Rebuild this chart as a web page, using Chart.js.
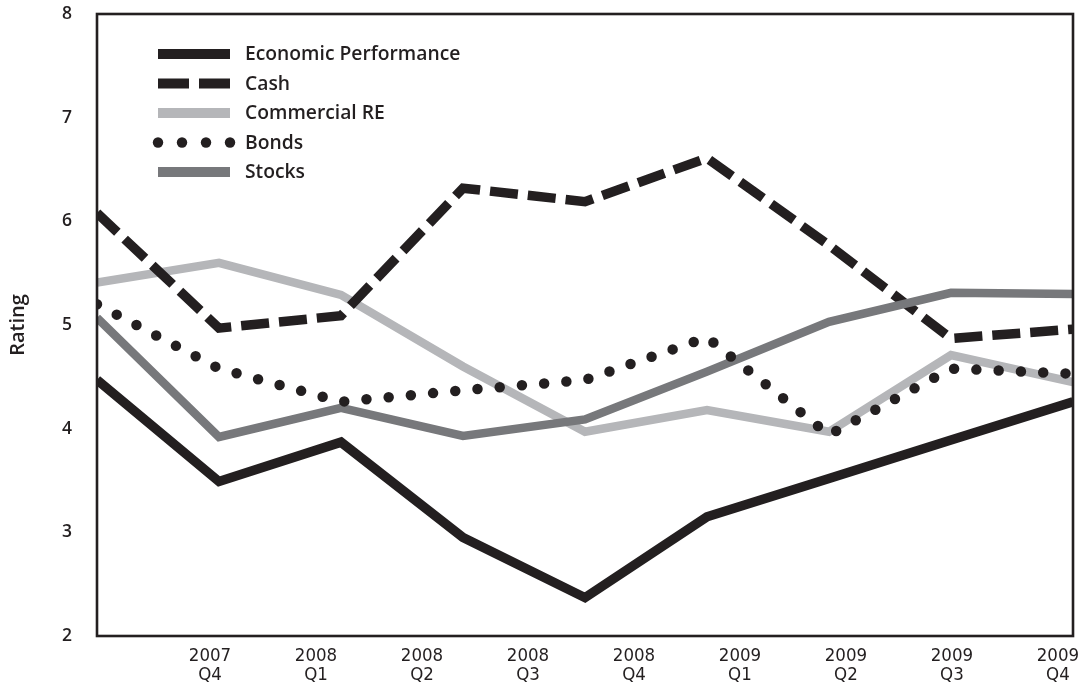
<!DOCTYPE html>
<html>
<head>
<meta charset="utf-8">
<script src="https://cdn.jsdelivr.net/npm/chart.js@4/dist/chart.umd.min.js"></script>
<style>
  html, body { margin: 0; padding: 0; background: #ffffff; }
  #wrap { width: 1078px; height: 685px; position: relative; }
</style>
</head>
<body>
<div id="wrap"><canvas id="c" width="1078" height="685"></canvas></div>
<script>
// ---- data ----
const pointIndex = ['P0', 'P1', 'P2', 'P3', 'P4', 'P5', 'P6', 'P7', 'P8'];
const quarterLabels = [
  ['2007', 'Q4'], ['2008', 'Q1'], ['2008', 'Q2'], ['2008', 'Q3'], ['2008', 'Q4'],
  ['2009', 'Q1'], ['2009', 'Q2'], ['2009', 'Q3'], ['2009', 'Q4']
];
const yTicks = [2, 3, 4, 5, 6, 7, 8];
const seriesNames = ['Economic Performance', 'Cash', 'Commercial RE', 'Bonds', 'Stocks'];
const economic     = [4.47, 3.49, 3.87, 2.95, 2.37, 3.15, 3.52, 3.89, 4.26];
const cash         = [6.08, 4.97, 5.09, 6.32, 6.19, 6.61, 5.77, 4.87, 4.96];
const commercialRE = [5.41, 5.60, 5.29, 4.60, 3.97, 4.18, 3.97, 4.71, 4.45];
const bonds        = [5.20, 4.58, 4.26, 4.37, 4.47, 4.88, 3.94, 4.58, 4.53];
const stocks       = [5.07, 3.92, 4.20, 3.93, 4.09, 4.55, 5.03, 5.31, 5.30];

const INK = '#231f20';
const TXT_FONT = '"Open Sans", "Noto Sans", sans-serif';
const NARROW_FONT = '"Liberation Sans Narrow", "DejaVu Sans Condensed", "Roboto Condensed", sans-serif';

function ds(label, data, color, width, dash, cap, order, legendKind) {
  return {
    label, data,
    borderColor: color, backgroundColor: color,
    borderWidth: width, borderDash: dash, borderCapStyle: cap,
    borderJoinStyle: 'miter', pointRadius: 0, pointHoverRadius: 0,
    tension: 0, fill: false, clip: 0, order, legendKind
  };
}

const datasets = [
  ds(seriesNames[0], economic, INK, 9.5, [], 'butt', 0, 'solid'),
  ds(seriesNames[1], cash, INK, 9.5, [28, 10], 'butt', 3, 'dash'),
  ds(seriesNames[2], commercialRE, '#b5b6b9', 8.5, [], 'butt', 4, 'solid'),
  ds(seriesNames[3], bonds, INK, 10.5, [0, 22.3], 'round', 1, 'dots'),
  ds(seriesNames[4], stocks, '#77787b', 8.5, [], 'butt', 2, 'solid')
];

const framePlugin = {
  id: 'frame',
  afterDatasetsDraw(chart) {
    const a = chart.chartArea, ctx = chart.ctx;
    ctx.save();
    ctx.strokeStyle = INK;
    ctx.lineWidth = 2.6;
    ctx.strokeRect(a.left, a.top, a.right - a.left, a.bottom - a.top);
    ctx.restore();
  }
};

const legendPlugin = {
  id: 'insideLegend',
  afterDraw(chart) {
    const ctx = chart.ctx;
    const x0 = 158, x1 = 230, tx = 245, y0 = 54, step = 29.5;
    ctx.save();
    chart.data.datasets.forEach((d, i) => {
      const y = y0 + i * step;
      ctx.fillStyle = d.borderColor;
      if (d.legendKind === 'solid') {
        ctx.fillRect(x0, y - 5, x1 - x0, 10);
      } else if (d.legendKind === 'dash') {
        ctx.fillRect(x0, y - 5, 31, 10);
        ctx.fillRect(x1 - 31, y - 5, 31, 10);
      } else {
        for (let k = 0; k < 4; k++) {
          ctx.beginPath();
          ctx.arc(x0 + k * 24, y, 5.2, 0, Math.PI * 2);
          ctx.fill();
        }
      }
      ctx.fillStyle = INK;
      ctx.font = '600 19.3px ' + TXT_FONT;
      ctx.textAlign = 'left';
      ctx.textBaseline = 'middle';
      ctx.fillText(d.label, tx, y + 1);
    });
    ctx.restore();
  }
};

new Chart(document.getElementById('c'), {
  type: 'line',
  data: { labels: pointIndex, datasets },
  plugins: [framePlugin, legendPlugin],
  options: {
    responsive: false,
    animation: false,
    devicePixelRatio: 1,
    layout: { padding: { top: 14, right: 5, left: 0, bottom: 0 } },
    plugins: { legend: { display: false }, tooltip: { enabled: false } },
    scales: {
      x: { type: 'category', display: false, offset: false },
      xq: {
        type: 'linear', position: 'bottom',
        min: -0.066, max: 9.142,
        grid: { display: false, drawTicks: false },
        border: { display: false },
        afterBuildTicks: s => { s.ticks = quarterLabels.map((_, i) => ({ value: i + 1 })); },
        afterFit: s => { s.height = 49; s.paddingLeft = 0; s.paddingRight = 0; },
        ticks: {
          autoSkip: false, maxRotation: 0, minRotation: 0, padding: 11,
          color: INK,
          font: { family: NARROW_FONT, size: 18.5, lineHeight: 1.0 },
          callback: v => quarterLabels[v - 1]
        }
      },
      y: {
        min: 2, max: 8,
        grid: { display: false, drawTicks: false },
        border: { display: false },
        afterBuildTicks: s => { s.ticks = yTicks.map(v => ({ value: v })); },
        afterFit: s => { s.width = 97; s.paddingTop = 0; s.paddingBottom = 0; },
        ticks: {
          padding: 25, color: INK,
          font: { family: TXT_FONT, size: 17.5, weight: 600 }
        },
        title: {
          display: true, text: 'Rating', color: INK,
          font: { family: TXT_FONT, size: 20, weight: 600 },
          padding: { top: 6, bottom: 0 }
        }
      }
    }
  }
});
</script>
</body>
</html>
